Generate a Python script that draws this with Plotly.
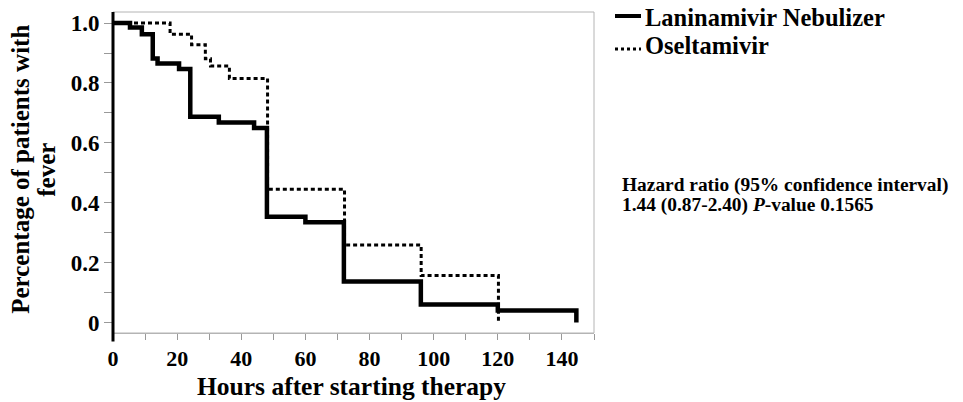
import plotly.graph_objects as go

# ---- data ----
lan_hours = [0, 5.3, 9.0, 12.4, 13.9, 20.6, 24.1, 33.0, 44.0, 48.0, 60.0, 72.0, 96.0, 120.0, 144.5]
lan_frac = [1.0, 0.985, 0.963, 0.882, 0.865, 0.847, 0.687, 0.668, 0.650, 0.353, 0.335, 0.137, 0.060, 0.040, 0.0]
ose_hours = [0, 17.8, 24.5, 28.8, 30.4, 36.3, 48.2, 72.2, 96.1, 120.2]
ose_frac = [1.0, 0.963, 0.928, 0.881, 0.857, 0.815, 0.445, 0.259, 0.157, 0.0]
x_tick_vals = [0, 20, 40, 60, 80, 100, 120, 140]
y_tick_vals = [0, 0.2, 0.4, 0.6, 0.8, 1.0]
y_tick_text = ["0", "0.2", "0.4", "0.6", "0.8", "1.0"]
series_names = ["Laninamivir Nebulizer", "Oseltamivir"]
hr_lines = ["Hazard ratio (95% confidence interval)",
            "1.44 (0.87-2.40) <i>P</i>-value 0.1565"]
x_title = "Hours after starting therapy"
y_title_lines = ["Percentage of patients with", "fever"]

# page body has an 8px margin: figure is placed at (8, 8) in the page
OFF = 8
W, H = 963 - OFF, 402 - OFF
L = 113 - OFF
T = 12 - OFF
PW = 481
PH = 321.5
R = W - L - PW
B = H - T - PH

def px_x(p):  # page pixel -> paper x
    return (p - OFF - L) / PW

def px_y(p):  # page pixel -> paper y
    return (T + PH - (p - OFF)) / PH

FONT = "Liberation Serif, Times New Roman, serif"
GRAY = "#b4b4b4"

fig = go.Figure()
fig.add_trace(go.Scatter(x=lan_hours, y=lan_frac, mode="lines", line_shape="hv",
                         line=dict(color="black", width=4.5), name=series_names[0],
                         showlegend=False))
fig.add_trace(go.Scatter(x=ose_hours, y=ose_frac, mode="lines", line_shape="hv",
                         line=dict(color="black", width=3, dash="4px,3px"), name=series_names[1],
                         showlegend=False))

fig.update_layout(
    width=W, height=H,
    margin=dict(l=L, r=R, t=T, b=B, pad=0),
    paper_bgcolor="white", plot_bgcolor="white",
    font=dict(family=FONT, color="black"),
    xaxis=dict(range=[0, 150], tickvals=x_tick_vals, ticks="outside", ticklen=6,
               tickcolor="#999999", tickwidth=1, showgrid=False, zeroline=False,
               showline=True, linecolor=GRAY, linewidth=1,
               tickfont=dict(family=FONT, size=22, weight="bold", color="black"),
               minor=dict(dtick=10, ticks="outside", ticklen=6, tickcolor="#999999", tickwidth=1,
                          showgrid=False)),
    yaxis=dict(range=[-0.035, 1.037], tickvals=y_tick_vals, ticktext=y_tick_text,
               ticks="outside", ticklen=8, tickcolor="#999999", tickwidth=1,
               showgrid=False, zeroline=False, showline=False,
               tickfont=dict(family=FONT, size=23, weight="bold", color="black"),
               minor=dict(dtick=0.1, ticks="outside", ticklen=8, tickcolor="#999999", tickwidth=1,
                          showgrid=False)),
)

# frame (gray) and black left axis
fig.add_shape(type="rect", xref="paper", yref="paper", x0=0, y0=0, x1=1, y1=1,
              line=dict(color=GRAY, width=1), layer="below")
fig.add_shape(type="line", xref="paper", yref="paper", x0=0, x1=0, y0=px_y(342), y1=1,
              line=dict(color="black", width=3))

# legend drawn manually
fig.add_shape(type="line", xref="paper", yref="paper", x0=px_x(615), x1=px_x(641),
              y0=px_y(16), y1=px_y(16), line=dict(color="black", width=4))
fig.add_shape(type="line", xref="paper", yref="paper", x0=px_x(615), x1=px_x(641),
              y0=px_y(49), y1=px_y(49), line=dict(color="black", width=3, dash="3px,3px"))
fig.add_annotation(xref="paper", yref="paper", x=px_x(643), y=px_y(18), xanchor="left",
                   yanchor="middle", showarrow=False, text="<b>" + series_names[0] + "</b>",
                   font=dict(family=FONT, size=24.5, color="black"))
fig.add_annotation(xref="paper", yref="paper", x=px_x(643), y=px_y(46), xanchor="left",
                   yanchor="middle", showarrow=False, text="<b>" + series_names[1] + "</b>",
                   font=dict(family=FONT, size=24.5, color="black"))

# hazard ratio text
for line, yc in zip(hr_lines, [185, 205]):
    fig.add_annotation(xref="paper", yref="paper", x=px_x(620), y=px_y(yc), xanchor="left",
                       yanchor="middle", showarrow=False, text="<b>" + line + "</b>",
                       font=dict(family=FONT, size=19.4, color="black"))

# axis titles
fig.add_annotation(xref="paper", yref="paper", x=px_x(351), y=px_y(387), xanchor="center",
                   yanchor="middle", showarrow=False, text="<b>" + x_title + "</b>",
                   font=dict(family=FONT, size=25.5, color="black"))
for line, xc in zip(y_title_lines, [21, 47]):
    fig.add_annotation(xref="paper", yref="paper", x=px_x(xc), y=px_y(170), xanchor="center",
                       yanchor="middle", showarrow=False, textangle=-90,
                       text="<b>" + line + "</b>",
                       font=dict(family=FONT, size=25, color="black"))

fig.write_html("out.html")
